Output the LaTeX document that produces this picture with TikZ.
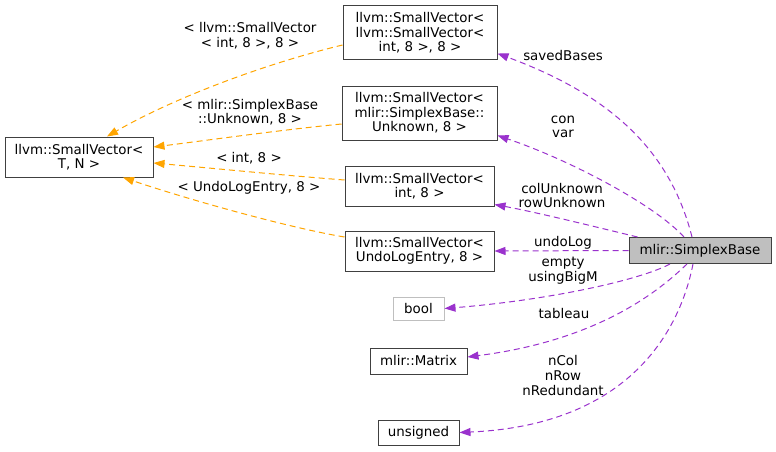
\documentclass[tikz,border=0pt]{standalone}
\usepackage{fontspec}
\setmainfont{DejaVu Sans}
\usetikzlibrary{arrows.meta}
\definecolor{BoxClr}{HTML}{404040}
\definecolor{FillClr}{HTML}{BFBFBF}
\definecolor{UseClr}{HTML}{9A32CD}
\definecolor{TplClr}{HTML}{FFA500}

\begin{document}
\begin{tikzpicture}[x=1pt,y=-1pt,
  font=\fontsize{13.4}{14.5}\selectfont,
  cls/.style={draw=BoxClr,line width=1pt,inner sep=0pt,align=center},
  undoc/.style={cls,draw=FillClr},
  uses/.style={UseClr,line width=1pt,dash pattern=on 6pt off 4pt,-{Triangle[length=11pt,width=8pt]}},
  tpl/.style={TplClr,line width=1pt,dash pattern=on 6pt off 4pt,-{Triangle[length=11pt,width=8pt]}},
  lbl/.style={align=center,inner sep=0pt}]
\useasboundingbox (0,0) rectangle (776,452);

\node[cls,minimum width=148pt,minimum height=40pt] (base) at (79,157) {llvm::SmallVector<\\T, N >};
\node[cls,minimum width=154pt,minimum height=54pt] (svsv) at (420,33) {llvm::SmallVector<\\llvm::SmallVector<\\int, 8 >, 8 >};
\node[cls,minimum width=155pt,minimum height=54pt] (svunk) at (419.5,113) {llvm::SmallVector<\\mlir::SimplexBase::\\Unknown, 8 >};
\node[cls,minimum width=149pt,minimum height=40pt] (svint) at (419.5,186) {llvm::SmallVector<\\int, 8 >};
\node[cls,minimum width=149pt,minimum height=40pt] (svundo) at (419.5,251) {llvm::SmallVector<\\UndoLogEntry, 8 >};
\node[undoc,minimum width=51pt,minimum height=23pt] (bool) at (418.5,308.5) {bool};
\node[cls,minimum width=97pt,minimum height=26pt] (matrix) at (418.5,361) {mlir::Matrix};
\node[cls,minimum width=81pt,minimum height=25pt] (unsigned) at (418.5,432.5) {unsigned};
\node[cls,fill=FillClr,minimum width=142pt,minimum height=26pt] (simplex) at (700,250.5) {mlir::SimplexBase};

\draw[uses] ([xshift=-8pt]simplex.north) .. controls (670,150) and (610,95) .. ([yshift=7pt]svsv.south east);
\draw[uses] ([xshift=-16pt]simplex.north) .. controls (655,205) and (570,160) .. ([yshift=5pt]svunk.south east);
\draw[uses] ([xshift=9pt]simplex.north west) .. controls (600,228) and (540,213) .. ([yshift=2pt]svint.south east);
\draw[uses] (simplex.west) -- (svundo.east);
\draw[uses] ([xshift=-30pt]simplex.south) .. controls (640,280) and (550,300) .. (bool.east);
\draw[uses] ([xshift=-13pt]simplex.south) .. controls (660,290) and (600,340) .. ([yshift=4pt]matrix.east);
\draw[uses] ([xshift=-7pt]simplex.south) .. controls (680,330) and (630,425) .. (unsigned.east);

\draw[tpl] ([yshift=-12pt]svsv.west) .. controls (260,65) and (170,100) .. ([xshift=28pt]base.north);
\draw[tpl] ([yshift=-11pt]svunk.west) .. controls (280,130) and (210,140) .. ([yshift=10pt]base.east);
\draw[tpl] ([yshift=6pt]svint.west) .. controls (280,175) and (210,168) .. ([yshift=-6pt]base.east);
\draw[tpl] ([yshift=14pt]svundo.west) .. controls (290,228) and (190,200) .. ([xshift=44pt]base.south);

\node[lbl] (lsaved) at (563,56) {savedBases};
\node[lbl] (lcon) at (563,127) {con\\var};
\node[lbl] (lcol) at (562,195.5) {colUnknown\\rowUnknown};
\node[lbl] (lundo) at (563,243) {undoLog};
\node[lbl] (lempty) at (563,270.5) {empty\\usingBigM};
\node[lbl] (ltab) at (564,314) {tableau};
\node[lbl] (lncol) at (563,375.5) {nCol\\nRow\\nRedundant};
\node[lbl] (lsvsv) at (250,35.5) {< llvm::SmallVector\\< int, 8 >, 8 >};
\node[lbl] (lsvunk) at (250,112) {< mlir::SimplexBase\\::Unknown, 8 >};
\node[lbl] (lsvint) at (249,158) {< int, 8 >};
\node[lbl] (lsvundo) at (249,188) {< UndoLogEntry, 8 >};

\end{tikzpicture}
\end{document}
